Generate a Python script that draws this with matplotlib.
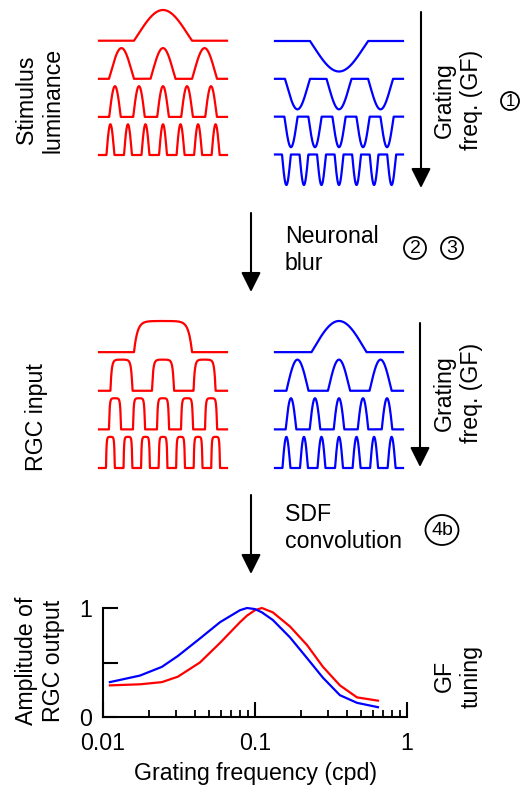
import numpy as np
import matplotlib
matplotlib.use('Agg')
import matplotlib.pyplot as plt
from matplotlib.patches import Ellipse

plt.rcParams['font.family'] = ['Liberation Sans', 'DejaVu Sans']

W, H = 521, 792

# ---- Tuning curve data ----
freq_cpd = [0.0111, 0.0175, 0.0244, 0.0311, 0.0434, 0.0589, 0.0797, 0.0886,
            0.1, 0.111, 0.131, 0.170, 0.220, 0.280, 0.362, 0.469, 0.644]
tuning_blue = [0.32, 0.38, 0.46, 0.56, 0.72, 0.87, 0.98, 1.0,
               0.99, 0.96, 0.89, 0.73, 0.54, 0.36, 0.20, 0.13, 0.09]
tuning_red = [0.29, 0.30, 0.32, 0.37, 0.50, 0.68, 0.87, 0.93,
              0.98, 1.0, 0.96, 0.83, 0.66, 0.46, 0.29, 0.18, 0.15]
x_ticks = [0.01, 0.1, 1]
x_tick_labels = ['0.01', '0.1', '1']
y_ticks = [0, 0.5, 1]
y_tick_labels = ['0', '', '1']

# ---- Grating schematic parameters (cycles per panel width, bump duty) ----
grating_cycles = [1.28, 3.08, 5.33, 7.3]
stim_red_duty = [0.58, 0.6, 0.48, 0.45]
stim_blue_duty = [0.58, 0.6, 0.55, 0.5]
input_red_duty = [0.58, 0.53, 0.5, 0.5]
input_blue_duty = [0.55, 0.53, 0.44, 0.45]
row_spacing = 1.24

RED = '#ff0000'
BLUE = '#0000ff'
FS = 16.7

fig = plt.figure(figsize=(W / 100, H / 100), dpi=100)

ov = fig.add_axes([0, 0, 1, 1])
ov.set_xlim(0, W)
ov.set_ylim(H, 0)
ov.axis('off')


def px_axes(x0, x1, ytop, ybot):
    return fig.add_axes([x0 / W, 1 - ybot / H, (x1 - x0) / W, (ybot - ytop) / H])


def grating(x, cycles, duty):
    c = np.cos(2 * np.pi * cycles * (x - 0.5))
    t = np.cos(np.pi * duty)
    return np.clip((c - t) / (1 - t), 0, 1)


def saturate(u, k=6.0):
    return (1 - np.exp(-k * u)) / (1 - np.exp(-k))


def draw_panel(x0, x1, ytop, ybot, profiles, color, invert=False):
    ax = px_axes(x0, x1, ytop, ybot)
    x = np.linspace(0, 1, 1200)
    for i, prof in enumerate(profiles):
        base = -i * row_spacing
        p = prof(x)
        y = base - p if invert else base + p
        ax.plot(x, y, color=color, lw=1.6, clip_on=False, solid_joinstyle='round')
    ax.set_xlim(0, 1)
    if invert:
        ax.set_ylim(-3 * row_spacing - 1, 0)
    else:
        ax.set_ylim(-3 * row_spacing, 1)
    ax.axis('off')


# Stimulus luminance
draw_panel(99, 227, 10, 155,
           [lambda x, c=c, d=d: grating(x, c, d) for c, d in zip(grating_cycles, stim_red_duty)], RED)
draw_panel(275, 403, 41, 185,
           [lambda x, c=c, d=d: grating(x, c, d) for c, d in zip(grating_cycles, stim_blue_duty)], BLUE,
           invert=True)
# RGC input
draw_panel(99, 227, 321, 468,
           [lambda x, c=c, d=d: saturate(grating(x, c, d)) for c, d in zip(grating_cycles, input_red_duty)], RED)
draw_panel(275, 403, 321, 468,
           [lambda x, c=c, d=d: grating(x, c, d) for c, d in zip(grating_cycles, input_blue_duty)], BLUE)


def arrow(x, y0, y1):
    ov.annotate('', xy=(x, y1), xytext=(x, y0),
                arrowprops=dict(arrowstyle='-|>,head_length=0.6,head_width=0.3',
                                mutation_scale=20, lw=1.5, color='k',
                                shrinkA=0, shrinkB=0))


arrow(421, 12, 188)
arrow(251, 213, 292)
arrow(420, 323, 467)
arrow(251, 495, 574)

# Texts
ov.text(40, 100, 'Stimulus\nluminance', rotation=90, ha='center', va='center',
        multialignment='center', fontsize=FS)
ov.text(37, 417, 'RGC input', rotation=90, ha='center', va='center', fontsize=FS)
ov.text(458, 100, 'Grating\nfreq. (GF)', rotation=90, ha='center', va='center',
        multialignment='center', fontsize=FS)
ov.text(458, 393, 'Grating\nfreq. (GF)', rotation=90, ha='center', va='center',
        multialignment='center', fontsize=FS)
ov.text(285, 250, 'Neuronal\nblur', ha='left', va='center', multialignment='left', fontsize=FS)
ov.text(285, 528, 'SDF\nconvolution', ha='left', va='center', multialignment='left', fontsize=FS)
ov.text(40, 661, 'Amplitude of\nRGC output', rotation=90, ha='center', va='center',
        multialignment='center', fontsize=FS)
ov.text(458, 676, 'GF\ntuning', rotation=90, ha='center', va='center',
        multialignment='center', fontsize=FS)
ov.text(255, 780, 'Grating frequency (cpd)', ha='center', va='baseline', fontsize=FS)


def circled(xc, yc, w, h, label, fs):
    ov.add_patch(Ellipse((xc, yc), w, h, fill=False, lw=1.3, ec='k'))
    ov.text(xc, yc + 0.5, label, ha='center', va='center', fontsize=fs)


circled(510, 101, 18, 18, '1', 12)
circled(415, 248, 22, 22, '2', 14)
circled(452, 248, 22, 22, '3', 14)
circled(442, 530, 33, 30, '4b', 14)

# Tuning plot
ax = px_axes(103, 407, 608, 717)
ax.plot(freq_cpd, tuning_red, color=RED, lw=1.6, clip_on=False)
ax.plot(freq_cpd, tuning_blue, color=BLUE, lw=1.6, clip_on=False)
ax.set_xscale('log')
ax.set_xlim(0.01, 1)
ax.set_ylim(0, 1)
for s in ['top', 'right']:
    ax.spines[s].set_visible(False)
for s in ['left', 'bottom']:
    ax.spines[s].set_linewidth(1.5)
ax.set_xticks(x_ticks)
ax.set_xticklabels(x_tick_labels)
ax.set_yticks(y_ticks)
ax.set_yticklabels(y_tick_labels)
ax.yaxis.set_minor_locator(matplotlib.ticker.NullLocator())
ax.tick_params(axis='x', which='major', direction='in', length=11, width=1.5, pad=11, labelsize=FS)
ax.tick_params(axis='x', which='minor', direction='in', length=5, width=1.3)
ax.tick_params(axis='y', which='major', direction='in', length=11, width=1.5, pad=8, labelsize=FS)

fig.savefig('out.png', dpi=100)
